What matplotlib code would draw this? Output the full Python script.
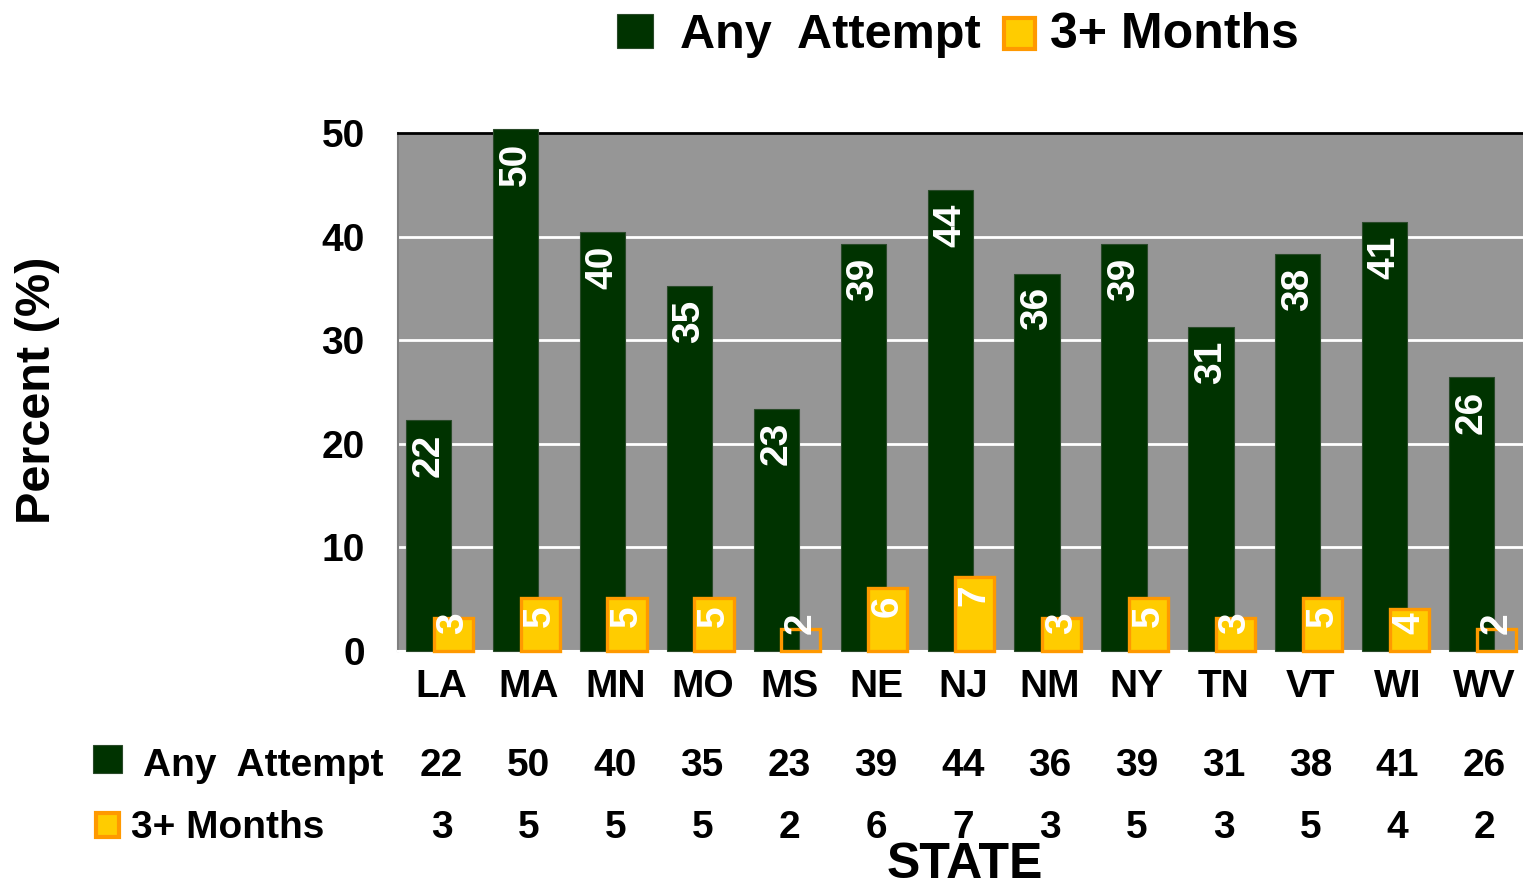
import matplotlib
matplotlib.use("Agg")
import matplotlib.pyplot as plt
from matplotlib.patches import Rectangle
from matplotlib.transforms import blended_transform_factory

plt.rcParams['font.family'] = ['Liberation Sans', 'DejaVu Sans']
plt.rcParams['font.weight'] = 'bold'

states = ["LA", "MA", "MN", "MO", "MS", "NE", "NJ", "NM", "NY", "TN", "VT", "WI", "WV"]
any_attempt = [22.3, 50.4, 40.4, 35.2, 23.4, 39.3, 44.5, 36.4, 39.3, 31.3, 38.3, 41.4, 26.4]
months3 = [3.2, 5.1, 5.1, 5.1, 2.1, 6.1, 7.1, 3.2, 5.1, 3.2, 5.1, 4.1, 2.1]
any_labels = ["22", "50", "40", "35", "23", "39", "44", "36", "39", "31", "38", "41", "26"]
months_labels = ["3", "5", "5", "5", "2", "6", "7", "3", "5", "3", "5", "4", "2"]
hollow_states = ["MS", "WV"]
series_names = ["Any  Attempt", "3+ Months"]
yticks = [0, 10, 20, 30, 40, 50]

GREEN = "#003300"
ORANGE = "#FF9900"
YELLOW = "#FFCC00"
GRAY = "#969696"

W, H = 1523, 885
fig = plt.figure(figsize=(W / 100, H / 100), dpi=100)
ax = fig.add_axes([398 / W, 1 - 651 / H, (1528 - 398) / W, (651 - 133) / H])
ax.set_facecolor(GRAY)
ax.set_xlim(-0.5, len(states) - 0.5)
ax.set_ylim(0, 50)

for y in yticks[1:-1]:
    ax.axhline(y, color="white", lw=2, zorder=1)

x = list(range(len(states)))
gx = [i - 0.148 for i in x]
ox = [i + 0.135 for i in x]
ax.bar(gx, any_attempt, width=0.52, color=GREEN, edgecolor="#2a4a2a", lw=0.8, zorder=4, clip_on=False)
faces = ["none" if s in hollow_states else YELLOW for s in states]
ax.bar(ox, months3, width=0.45, color=faces, edgecolor=ORANGE, lw=2.4, zorder=4.5, clip_on=False)

for xi, v, lab in zip(gx, any_attempt, any_labels):
    ax.text(xi, v - 1.3, lab, rotation=90, ha="center", va="top", color="white",
            fontsize=28, fontweight="bold", zorder=6)
for xi, v, lab in zip(ox, months3, months_labels):
    ax.text(xi, max(v - 0.7, 3.7), lab, rotation=90, ha="center", va="top", color="white",
            fontsize=28, fontweight="bold", zorder=6)

ax.set_yticks(yticks)
ax.set_yticklabels([str(t) for t in yticks], fontsize=28, fontweight="bold")
ax.tick_params(axis="y", length=0, pad=24)
ax.set_xticks(x)
ax.set_xticklabels(states, fontsize=28, fontweight="bold")
ax.tick_params(axis="x", length=0, pad=13)

ax.spines["right"].set_visible(False)
ax.spines["top"].set_color("black")
ax.spines["top"].set_linewidth(2)
ax.spines["left"].set_color("#7f7f7f")
ax.spines["left"].set_linewidth(1.5)
ax.spines["bottom"].set_color("white")
ax.spines["bottom"].set_linewidth(1.5)

# Y label
fig.text(38 / W, 1 - 390 / H, "Percent (%)", rotation=90, ha="center", va="center",
         fontsize=35, fontweight="bold")

# Top legend
fig.patches.append(Rectangle((617 / W, 1 - 48 / H), 36 / W, 34 / H, transform=fig.transFigure,
                             facecolor=GREEN, edgecolor="#2a4a2a", lw=0.8))
fig.text(680 / W, 1 - 35 / H, series_names[0], ha="left", va="center", fontsize=35, fontweight="bold")
fig.patches.append(Rectangle((1004 / W, 1 - 49 / H), 31 / W, 31 / H, transform=fig.transFigure,
                             facecolor=YELLOW, edgecolor=ORANGE, lw=3))
fig.text(1050 / W, 1 - 35 / H, series_names[1], ha="left", va="center", fontsize=36, fontweight="bold")

# Data table
tr = blended_transform_factory(ax.transData, fig.transFigure)
row_y = [1 - 762 / H, 1 - 824 / H]
fig.patches.append(Rectangle((93 / W, 1 - 773 / H), 29 / W, 28 / H, transform=fig.transFigure,
                             facecolor=GREEN, edgecolor="#2a4a2a", lw=0.8))
fig.text(143 / W, row_y[0], series_names[0], ha="left", va="center_baseline", fontsize=28, fontweight="bold")
fig.patches.append(Rectangle((96 / W, 1 - 837 / H), 23 / W, 24 / H, transform=fig.transFigure,
                             facecolor=YELLOW, edgecolor=ORANGE, lw=3))
fig.text(131 / W, row_y[1], series_names[1], ha="left", va="center_baseline", fontsize=28, fontweight="bold")
for xi, a, m in zip(x, any_labels, months_labels):
    ax.text(xi, row_y[0], a, transform=tr, ha="center", va="center_baseline", fontsize=28, fontweight="bold")
    ax.text(xi, row_y[1], m, transform=tr, ha="center", va="center_baseline", fontsize=28, fontweight="bold")

fig.text(965 / W, 1 - 878 / H, "STATE", ha="center", va="baseline", fontsize=36, fontweight="bold")

fig.savefig("out.png", dpi=100)
